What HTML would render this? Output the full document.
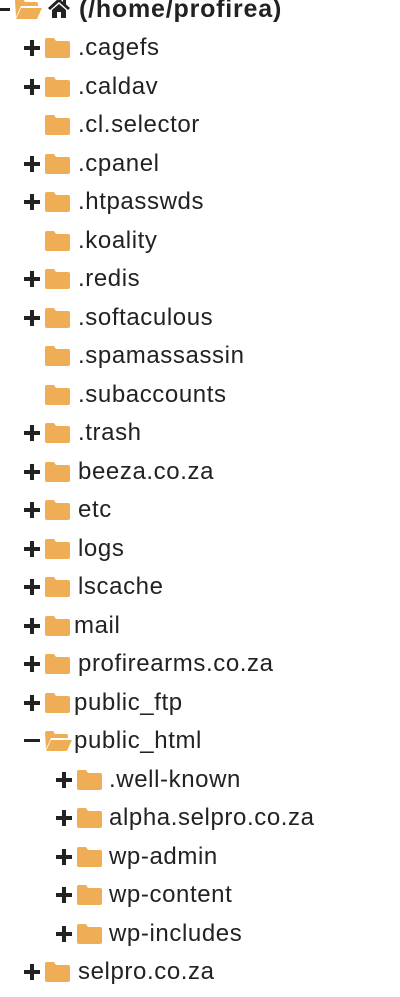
<!DOCTYPE html>
<html><head><meta charset="utf-8"><style>
body{margin:0;width:400px;height:997px;background:#fff;position:relative;overflow:hidden;font-family:"Liberation Sans","DejaVu Sans",sans-serif;color:#222;}
.r{position:absolute;left:0;height:38px;width:400px;}
.f{position:absolute;top:9px;}
.t{position:absolute;top:5px;font-size:24px;line-height:28px;white-space:nowrap;letter-spacing:0.6px;}
</style></head><body>
<svg width="0" height="0" style="position:absolute"><defs>
<symbol id="fold" viewBox="0 0 25 20"><path d="M0 2 Q0 0 2 0 H9 L11 3 H23 Q25 3 25 5 V18 Q25 20 23 20 H2 Q0 20 0 18 Z" fill="#EFAE55"/></symbol>
<symbol id="open" viewBox="0 0 27 20"><path d="M0 2 Q0 0 2 0 H8 L10 3 H21 Q23 3 23 5 V7 H6 L1 18 Z" fill="#EFAE55"/><path d="M6 9 H27 L22 20 H1 Z" fill="#EFAE55"/></symbol>
</defs></svg>

<div class="r" style="top:-10px">
<div style="position:absolute;left:0;top:18px;width:10px;height:3px;background:#222"></div>
<svg class="f" style="left:15px;top:9px" width="27" height="20"><use href="#open"/></svg>
<svg style="position:absolute;left:47px;top:7px" width="24" height="22" viewBox="0 0 24 22"><path d="M12 1 L1 11 L3 13 L12 5 L21 13 L23 11 L19 7.5 V2 H16 V5 Z" fill="#222"/><path d="M5 13 L12 7 L19 13 V21 H14 V15 H10 V21 H5 Z" fill="#222"/></svg>
<div class="t" style="left:79px;font-weight:bold;font-size:25px;letter-spacing:0.8px">(/home/profirea)</div>
</div>

<div id="rows"></div>
<script>
var rows=[
[".cagefs",1,0,78],[".caldav",1,0,78],[".cl.selector",0,0,78],[".cpanel",1,0,78],[".htpasswds",1,0,78],[".koality",0,0,78],[".redis",1,0,78],[".softaculous",1,0,78],[".spamassassin",0,0,78],[".subaccounts",0,0,78],[".trash",1,0,78],["beeza.co.za",1,0,78],["etc",1,0,78],["logs",1,0,78],["lscache",1,0,78],["mail",1,0,74],["profirearms.co.za",1,0,78],["public_ftp",1,0,74],["public_html",2,0,74],[".well-known",1,1,109],["alpha.selpro.co.za",1,1,109],["wp-admin",1,1,109],["wp-content",1,1,109],["wp-includes",1,1,109],["selpro.co.za",1,0,78]];
var h="";
rows.forEach(function(r,i){
var cy=48+i*38.5, top=cy-19, off=r[2]?32:0;
h+='<div class="r" style="top:'+top+'px">';
if(r[1]==1)h+='<div style="position:absolute;left:'+(24+off)+'px;top:17px;width:16px;height:4px;background:#222"></div><div style="position:absolute;left:'+(30+off)+'px;top:11px;width:4px;height:16px;background:#222"></div>';
if(r[1]==2){h+='<div style="position:absolute;left:'+(24+off)+'px;top:17px;width:16px;height:3px;background:#222"></div>';
h+='<svg class="f" style="left:'+(45+off)+'px" width="27" height="20"><use href="#open"/></svg>';}
else h+='<svg class="f" style="left:'+(45+off)+'px" width="25" height="20"><use href="#fold"/></svg>';
h+='<div class="t" style="left:'+r[3]+'px">'+r[0]+'</div></div>';
});
document.getElementById("rows").innerHTML=h;
</script>
</body></html>
